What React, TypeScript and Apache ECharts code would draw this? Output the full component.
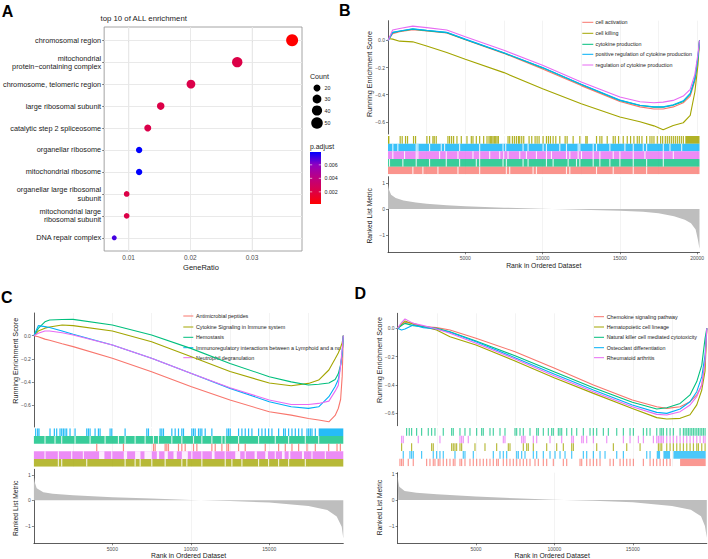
import React, { useEffect, useRef } from "react";
import * as echarts from "echarts";

const FONT = "'Liberation Sans', Arial, Helvetica, sans-serif";
const RED = "#F8766D", OLIVE = "#A3A500", GREEN = "#00BF7D", BLUE = "#00B0F6", PURPLE = "#E76BF3";

// ---------------- Panel A data ----------------
const goTerms = [
  "chromosomal region",
  "mitochondrial\nprotein\u2212containing complex",
  "chromosome, telomeric region",
  "large ribosomal subunit",
  "catalytic step 2 spliceosome",
  "organellar ribosome",
  "mitochondrial ribosome",
  "organellar large ribosomal\nsubunit",
  "mitochondrial large\nribosomal subunit",
  "DNA repair complex",
];
const geneRatio = [0.0365, 0.0276, 0.0201, 0.0152, 0.0131, 0.0117, 0.0117, 0.00968, 0.00968, 0.00767];
const geneCount = [54, 41, 30, 23, 20, 17, 17, 14, 14, 11];
const pAdjust = [0.0002, 0.0021, 0.0022, 0.0021, 0.0022, 0.0079, 0.0079, 0.0021, 0.0021, 0.007];
const ratioTicks = [0.01, 0.02, 0.03];
const ratioMinor = [0.015, 0.025, 0.035];
const ratioRange = [0.00603, 0.0381];
const countLegend = [20, 30, 40, 50];
const pTicks = [0.002, 0.004, 0.006];
const pRange = [0.0002, 0.0079];
const pColors = ["#FF0000", "#DC0048", "#BD0080", "#9200BF", "#0000FF"];

// ---------------- GSEA shared ----------------
const esTicks = [0, -0.2, -0.4, -0.6];
const metricTicks = [1, 0, -1];

// ---------------- Panel B data ----------------
const N_B = 20150;
const B_names = ["cell activation", "cell killing", "cytokine production", "positive regulation of cytokine production", "regulation of cytokine production"];
const B_esX = [0, 300, 750, 1600, 2500, 3800, 5000, 7500, 10000, 12500, 15000, 16300, 17200, 17800, 18450, 19100, 19550, 19850, 20050, 20150];
const B_es_activation = [0, 0.05, 0.065, 0.08, 0.07, 0.055, 0.005, -0.095, -0.21, -0.333, -0.45, -0.49, -0.505, -0.505, -0.49, -0.46, -0.41, -0.3, -0.14, 0];
const B_es_killing = [0.015, 0.01, -0.005, -0.01, -0.04, -0.089, -0.138, -0.237, -0.356, -0.467, -0.565, -0.6, -0.63, -0.659, -0.627, -0.607, -0.553, -0.38, -0.18, 0];
const B_es_cytokine = [0, 0.058, 0.068, 0.084, 0.073, 0.058, 0.008, -0.092, -0.202, -0.325, -0.442, -0.48, -0.492, -0.492, -0.478, -0.45, -0.395, -0.285, -0.125, 0];
const B_es_posreg = [0, 0.06, 0.07, 0.086, 0.075, 0.06, 0.01, -0.09, -0.2, -0.323, -0.44, -0.478, -0.49, -0.49, -0.475, -0.445, -0.39, -0.28, -0.12, 0];
const B_es_reg = [0, 0.077, 0.089, 0.106, 0.095, 0.077, 0.027, -0.072, -0.183, -0.306, -0.417, -0.452, -0.459, -0.455, -0.442, -0.41, -0.36, -0.25, -0.1, 0];
const B_hits_killing = [20, 54, 788, 918, 1134, 1263, 1652, 1782, 2516, 2689, 2905, 2991, 3121, 3877, 3985, 4115, 4244, 4460, 4741, 5108, 5389, 5497, 5713, 5929, 6188, 6404, 6534, 6620, 6707, 6793, 6879, 6966, 7052, 7139, 7765, 7873, 8046, 8175, 8305, 8435, 8521, 8651, 8780, 9126, 9299, 9515, 9644, 9774, 10033, 10249, 10379, 10508, 10681, 10854, 11113, 11459, 11588, 11977, 12409, 12798, 12884, 13489, 13705, 13835, 14180, 14569, 14699, 14915, 15217, 15476, 15692, 15908, 16124, 16254, 16427, 16729, 16945, 17075, 17204, 17421, 17637, 17766, 17939, 18068, 18198, 18327, 18457, 18587, 18716, 18846, 18975, 19105, [19230, 20150]];
const B_gaps_posreg = [313, 637, 1825, 1933, 2689, 3445, 3661, 4633, 5929, 7441, 7614, 8737, 9061, 10033, 10249, 11113, 11545, 12301, 12409, 13273, 13489, 14353, 15325, 15865, 16513, 16729, 17809, 18241, 18997];
const B_gaps_reg = [313, 1069, 1825, 1933, 3337, 3769, 4525, 5497, 5929, 6577, 7225, 7484, 7765, 8521, 8953, 9601, 10249, 10573, 11545, 11761, 12301, 12517, 13273, 13705, 14569, 15001, 15865, 16621, 17809, 18457];
const B_gaps_cytokine = [97, 961, 1825, 2689, 3769, 4633, 5713, 5929, 7441, 7657, 8737, 9061, 10249, 10681, 11653, 12193, 12409, 13273, 13705, 14353, 15001, 15865, 16729, 17809];
const B_gaps_activation = [1609, 2257, 3229, 4525, 5929, 7657, 7873, 9385, 9601, 11545, 11761, 13489, 14569, 15865, 16729];
const B_metricX = [0, 60, 200, 500, 1000, 1800, 2500, 3800, 5000, 7500, 10000, 12500, 15000, 16500, 17500, 18500, 19200, 19600, 19900, 20050, 20150];
const B_metricY = [0.95, 0.75, 0.55, 0.42, 0.33, 0.25, 0.2, 0.14, 0.1, 0.05, 0.005, -0.03, -0.065, -0.11, -0.17, -0.28, -0.42, -0.55, -0.8, -1.2, -1.55];
const B_xTicks = [5000, 10000, 15000, 20000];

// ---------------- Panel C data ----------------
const N_C = 19720;
const C_names = ["Antimicrobial peptides", "Cytokine Signaling in Immune system", "Hemostasis", "Immunoregulatory interactions between a Lymphoid and a non\u2212Lymphoid cell", "Neutrophil degranulation"];
const C_esX = [0, 280, 700, 1000, 1800, 2500, 5000, 7500, 10000, 12500, 15000, 16400, 17500, 18150, 18800, 19200, 19400, 19550, 19650, 19720];
const C_es_antimicrobial = [0, -0.01, -0.03, -0.04, -0.07, -0.095, -0.196, -0.312, -0.44, -0.557, -0.658, -0.687, -0.716, -0.73, -0.745, -0.69, -0.63, -0.55, -0.35, 0];
const C_es_cytokine = [0, 0.04, 0.065, 0.075, 0.092, 0.087, 0.04, -0.052, -0.18, -0.31, -0.41, -0.433, -0.413, -0.384, -0.297, -0.2, -0.15, -0.1, -0.06, 0];
const C_es_hemostasis = [0, 0.063, 0.12, 0.136, 0.14, 0.141, 0.092, 0.006, -0.11, -0.24, -0.355, -0.4, -0.427, -0.42, -0.41, -0.38, -0.33, -0.25, -0.15, 0];
const C_es_immuno = [0, 0.087, 0.078, 0.07, 0.04, 0.012, -0.081, -0.196, -0.326, -0.456, -0.571, -0.615, -0.629, -0.615, -0.528, -0.44, -0.38, -0.26, -0.15, 0];
const C_es_neutrophil = [0, 0.02, 0.04, 0.04, 0.025, 0.006, -0.081, -0.196, -0.326, -0.45, -0.557, -0.595, -0.595, -0.586, -0.566, -0.48, -0.43, -0.25, -0.12, 0];
const C_hits_immuno = [113, 240, 325, 1027, 1304, 1453, 1665, 1772, 1878, 1984, 2091, 2303, 2623, 3367, 3473, 3580, 3899, 4111, 4218, 4856, 4962, 5813, 7196, 7302, 8046, 8153, 8259, 8791, 9004, 9216, 9429, 9535, 10067, 10173, 10280, 10492, 10599, 10705, 10918, 11343, 12300, 12407, 12513, 13045, 13258, 13470, 13683, 13896, 14321, 14534, 14746, 14959, 15172, 15597, 15916, 16023, 16235, 16448, 16661, 16873, 17086, 17405, 17512, 17618, 17724, 17937, [18150, 19720]];
const C_gaps_hemostasis = [708, 1346, 1772, 2623, 3580, 4537, 5388, 5813, 6451, 7089, 7621, 7940, 8791, 9429, 10173, 10705, 11343, 11981, 12194, 13045, 14321, 15385, 16235, 17299, 18150];
const C_hits_antimicrobial = [4005, 5707, 7621, 7727, 8365, 8472, 8578, 9216, 9429, 9642, 10173, 10386, 11343, 11556, 11981, 12300, 12407, 13045, 13470, 14746, 15597, 16023, 16448, 16873, 17405, 17937, 18788, 19320, 19532];
const C_gaps_neutrophil = [[4154, 4494], [5728, 5941], [6451, 6792], [7047, 7515], [7834, 7983], [8323, 8536], [8897, 9110], [9429, 9812], [11343, 11514], [12832, 13151], [14066, 14215], [14746, 14917], [15810, 15980], [16235, 16342], [17086, 17214], 708, 1559, 2410, 3154, 4962, 10067, 10705, 12194, 13470, 15385, 17724, 18575];
const C_gaps_cytokine = [1559, 1772, 3367, 5813, 6451, 6771, 7515, 8365, 9429, 9748, 10705, 12194, 12619, 13258, 14321, 14959, 15597, 16235, 17299];
const C_metricX = [0, 60, 180, 600, 1200, 2500, 5000, 7500, 10000, 12500, 15000, 17500, 18700, 19300, 19620, 19720];
const C_metricY = [0.93, 0.7, 0.47, 0.32, 0.26, 0.2, 0.12, 0.07, 0.01, -0.03, -0.09, -0.22, -0.38, -0.64, -1.04, -1.5];
const C_xTicks = [5000, 10000, 15000];

// ---------------- Panel D data ----------------
const N_D = 19720;
const D_names = ["Chemokine signaling pathway", "Hematopoietic cell lineage", "Natural killer cell mediated cytotoxicity", "Osteoclast differentiation", "Rheumatoid arthritis"];
const D_esX = [0, 250, 470, 1000, 1640, 2490, 3340, 5000, 7490, 9980, 12490, 14970, 16530, 17170, 18020, 18650, 19080, 19400, 19610, 19720];
const D_es_chemokine = [0, 0.025, 0.042, 0.035, 0.012, 0.005, -0.012, -0.07, -0.165, -0.28, -0.4, -0.506, -0.553, -0.565, -0.553, -0.518, -0.47, -0.4, -0.235, 0];
const D_es_hemato = [0, 0.03, 0.052, 0.028, 0.012, -0.012, -0.059, -0.118, -0.23, -0.348, -0.459, -0.565, -0.63, -0.64, -0.635, -0.61, -0.54, -0.435, -0.3, 0];
const D_es_nk = [0, 0.02, 0.035, 0.019, 0.012, 0, -0.024, -0.09, -0.193, -0.306, -0.419, -0.522, -0.569, -0.56, -0.53, -0.47, -0.376, -0.26, -0.07, 0];
const D_es_osteo = [0, -0.012, -0.005, 0.024, 0.005, -0.005, -0.028, -0.094, -0.207, -0.322, -0.435, -0.541, -0.593, -0.6, -0.569, -0.518, -0.447, -0.341, -0.188, 0];
const D_es_ra = [0, 0.04, 0.066, 0.035, 0.019, -0.005, -0.035, -0.106, -0.216, -0.334, -0.447, -0.553, -0.607, -0.612, -0.588, -0.541, -0.482, -0.4, -0.235, 0];
const D_hits_nk = [574, 744, 893, 1212, 1531, 1957, 2170, 2382, 2914, 3446, 3552, 3977, 4297, 4616, 5041, 5360, 5466, 5892, 6104, 6530, 6849, 7487, 7593, 7806, 8019, 8444, 8870, 8976, 9295, 9614, 9826, 9933, 10252, 10358, 10465, 10784, 11103, 11422, 11847, 12272, 12485, 12698, 13123, 13442, 13974, 14400, 14825, 15038, 15676, 15889, 16101, 16527, 16740, 16846, 16952, 17165, 17378, 17591, 18016, 18229, 18335, 18442, 18548, 18654, 18760, 18867, 18973, 19080, 19186, 19292, 19398, 19505, 19611];
const D_hits_ra = [255, 362, 1319, 2701, 3978, 4084, 4190, 4509, 6743, 6849, 7913, 8019, 8125, 8657, 8870, 9721, 10465, 11103, 11210, 11741, 11847, 12060, 12486, 13337, 14400, 14825, 15357, 15676, 16314, 16527, 16633, 16740, 16846, 16952, 17165, 17378, 17591, 17803, 18016, 18229, 18442, 18654, 18867, 19080, 19292, 19505, 19611];
const D_hits_hemato = [255, 893, 2170, 2276, 3446, 3552, 3659, 3765, 3978, 4084, 4935, 5573, 6317, 7062, 7168, 8019, 8232, 8338, 8657, 9508, 10146, 10571, 11103, 11210, 12698, 13762, 14613, 15464, 16633, 16740, 16846, 17165, 17378, 17591, 17803, 18016, 18229, 18442, 18654, 18867, 19080, 19186, 19398, 19611];
const D_hits_osteo = [362, 787, 893, 1000, 1531, 2276, 2489, 2701, 2914, 3659, 4190, 4297, 4829, 6105, 6530, 6743, 6956, 7594, 7700, 7913, 8125, 8657, 8870, 9295, 9721, 10040, 10359, 10678, 11103, 11847, 12060, 12486, 12911, 13230, 13975, 14400, 15889, 16102, [16527, 16740], [16952, 17378], [17591, 19650]];
const D_hits_chemokine = [149, 255, 362, 681, 1000, 1851, 2063, 2276, 2382, 2595, 2701, 2914, 3127, 3340, 3552, 3659, 3978, 4084, 4297, 4616, 4829, 5041, 5254, 5467, 5679, 5892, 6105, 6317, 6424, 6743, 6956, 7168, 7381, 7594, 7806, 8019, 8232, 8444, 8763, 8976, 9295, 9508, 9933, 10571, 10784, 11635, 11741, 12060, 12273, 12486, 12698, 12911, 13549, 13762, 14187, 14400, 14613, 14825, 15038, 15676, 16102, 16314, 16527, 16740, 16952, 17165, 17378, [18016, 19650]];
const D_metricX = [0, 40, 110, 450, 1200, 2500, 5000, 7500, 10000, 12500, 15000, 17500, 18700, 19350, 19600, 19720];
const D_metricY = [0.95, 0.72, 0.5, 0.34, 0.27, 0.22, 0.13, 0.06, 0.01, -0.03, -0.09, -0.23, -0.38, -0.63, -1.0, -1.45];
const D_xTicks = [5000, 10000, 15000];

// ---------------- Layout ----------------
const panels = [
  {
    N: N_B, left: 388, width: 311.5,
    es: { top: 20.7, bottom: 134, min: -0.69, max: 0.146 },
    band: { top: 136, bottom: 174.3 },
    rank: { top: 176.7, bottom: 252.3, min: -1.68, max: 1.25 },
    xTicks: B_xTicks, esX: B_esX, metricX: B_metricX, metricY: B_metricY,
    curves: [
      { name: B_names[0], color: RED, v: B_es_activation },
      { name: B_names[1], color: OLIVE, v: B_es_killing },
      { name: B_names[2], color: GREEN, v: B_es_cytokine },
      { name: B_names[3], color: BLUE, v: B_es_posreg },
      { name: B_names[4], color: PURPLE, v: B_es_reg },
    ],
    rows: [
      { color: OLIVE, hits: B_hits_killing },
      { color: BLUE, gaps: B_gaps_posreg },
      { color: PURPLE, gaps: B_gaps_reg },
      { color: GREEN, gaps: B_gaps_cytokine },
      { color: RED, gaps: B_gaps_activation },
    ],
    legend: { x1: 582.3, x2: 593.3, tx: 595.5, ys: [22.3, 33.3, 44.3, 54.3, 65], clip: 0 },
    titles: { yx: 369, esy: 74, ranky: 215.8, xy: 265.3 },
  },
  {
    N: N_C, left: 33.9, width: 309.4,
    es: { top: 313, bottom: 427, min: -0.79, max: 0.196 },
    band: { top: 428.3, bottom: 466.7 },
    rank: { top: 469.3, bottom: 543.3, min: -1.69, max: 1.22 },
    xTicks: C_xTicks, esX: C_esX, metricX: C_metricX, metricY: C_metricY,
    curves: [
      { name: C_names[0], color: RED, v: C_es_antimicrobial },
      { name: C_names[1], color: OLIVE, v: C_es_cytokine },
      { name: C_names[2], color: GREEN, v: C_es_hemostasis },
      { name: C_names[3], color: BLUE, v: C_es_immuno },
      { name: C_names[4], color: PURPLE, v: C_es_neutrophil },
    ],
    rows: [
      { color: BLUE, hits: C_hits_immuno },
      { color: GREEN, gaps: C_gaps_hemostasis },
      { color: RED, hits: C_hits_antimicrobial },
      { color: PURPLE, gaps: C_gaps_neutrophil },
      { color: OLIVE, gaps: C_gaps_cytokine },
    ],
    legend: { x1: 183.3, x2: 193.3, tx: 196, ys: [316, 327, 337.3, 347.7, 357.7], clip: 147.5 },
    titles: { yx: 15, esy: 360.8, ranky: 508.3, xy: 555.3 },
  },
  {
    N: N_D, left: 397.6, width: 309.2,
    es: { top: 313.3, bottom: 425.7, min: -0.687, max: 0.106 },
    band: { top: 428, bottom: 466.3 },
    rank: { top: 472.7, bottom: 543.3, min: -1.66, max: 1.04 },
    xTicks: D_xTicks, esX: D_esX, metricX: D_metricX, metricY: D_metricY,
    curves: [
      { name: D_names[0], color: RED, v: D_es_chemokine },
      { name: D_names[1], color: OLIVE, v: D_es_hemato },
      { name: D_names[2], color: GREEN, v: D_es_nk },
      { name: D_names[3], color: BLUE, v: D_es_osteo },
      { name: D_names[4], color: PURPLE, v: D_es_ra },
    ],
    rows: [
      { color: GREEN, hits: D_hits_nk, opacity: 0.7 },
      { color: PURPLE, hits: D_hits_ra, opacity: 0.7 },
      { color: OLIVE, hits: D_hits_hemato, opacity: 0.75 },
      { color: BLUE, hits: D_hits_osteo, opacity: 0.7 },
      { color: RED, hits: D_hits_chemokine, opacity: 0.75 },
    ],
    legend: { x1: 594, x2: 604, tx: 606.7, ys: [316.7, 327, 337.3, 347.7, 357.7], clip: 0 },
    titles: { yx: 379, esy: 360, ranky: 507.5, xy: 555.3 },
  },
];

const minus = (s: string) => s.replace("-", "\u2212");
const fmtES = (v: number) => (Math.abs(v) < 1e-9 ? "0.0" : minus(v.toFixed(1)));
const fmtMetric = (v: number) => (Math.abs(v) < 1e-9 ? "0" : minus(String(Math.round(v))));
const dotSize = (c: number) => 1.74 * Math.sqrt(c) - 0.77;

function bandSeries(xi: number, yi: number, row: number, items: any[], color: string, opacity: number, minW: number) {
  return {
    type: "custom",
    xAxisIndex: xi,
    yAxisIndex: yi,
    silent: true,
    clip: true,
    z: 2,
    encode: { x: [0, 1], y: 2 },
    data: items.map((it: any) => (Array.isArray(it) ? [it[0], it[1], row] : [it, it, row])),
    renderItem: (_p: any, api: any) => {
      const a = api.coord([api.value(0), api.value(2)]);
      const b = api.coord([api.value(1), api.value(2) + 1]);
      let x0 = Math.min(a[0], b[0]);
      let x1 = Math.max(a[0], b[0]);
      if (x1 - x0 < minW) {
        const c = (x0 + x1) / 2;
        x0 = c - minW / 2;
        x1 = c + minW / 2;
      }
      const y0 = Math.min(a[1], b[1]);
      const y1 = Math.max(a[1], b[1]);
      return { type: "rect", shape: { x: x0, y: y0, width: x1 - x0, height: y1 - y0 }, style: { fill: color, opacity } };
    },
  };
}

function buildOption() {
  const grid: any[] = [];
  const xAxis: any[] = [];
  const yAxis: any[] = [];
  const series: any[] = [];
  const graphic: any[] = [];
  const txt = (text: string, x: number, y: number, o: any = {}) => ({
    type: "text", x, y, silent: true, z: 1,
    style: { text, fontFamily: FONT, fontSize: 7, fill: "#1A1A1A", align: "left", verticalAlign: "middle", ...o },
  });
  const axisLineStyle = { color: "#333333", width: 0.8 };
  const tickStyle = { color: "#333333", width: 0.6 };

  // Panel letters
  const letters: any[] = [["A", 1.7, 11.3], ["B", 339, 10.8], ["C", 1, 297.8], ["D", 354.5, 293.3]];
  letters.forEach(([t, x, y]) => graphic.push(txt(t, x, y, { fontSize: 16, fontWeight: "bold", fill: "#000" })));

  // ---------- Panel A ----------
  const gA = grid.push({ left: 100, top: 27, width: 202, height: 224, show: true, borderColor: "#9A9A9A", borderWidth: 0.9, backgroundColor: "#FFFFFF" }) - 1;
  const xA = xAxis.push({
    gridIndex: gA, type: "value", min: ratioRange[0], max: ratioRange[1],
    axisLine: { show: false }, splitLine: { show: false },
    axisTick: { show: true, length: 2, customValues: ratioTicks, lineStyle: tickStyle },
    axisLabel: { customValues: ratioTicks, formatter: (v: number) => v.toFixed(2), fontSize: 6.5, color: "#4D4D4D", fontFamily: FONT, margin: 3 },
  }) - 1;
  const termIdx = goTerms.map((_, i) => i);
  const yA = yAxis.push({
    gridIndex: gA, type: "value", min: -0.6, max: 9.6, inverse: true,
    axisLine: { show: false }, splitLine: { show: false },
    axisTick: { show: true, length: 2, customValues: termIdx, lineStyle: tickStyle },
    axisLabel: { customValues: termIdx, formatter: (v: number) => goTerms[Math.round(v)], fontSize: 7.3, lineHeight: 8.2, color: "#1A1A1A", fontFamily: FONT, margin: 3 },
  }) - 1;
  const gridLine = (w: number) => ({ color: "#E6E6E6", width: w, type: "solid" });
  series.push({
    type: "scatter", xAxisIndex: xA, yAxisIndex: yA, z: 3, silent: true,
    data: goTerms.map((_, i) => [geneRatio[i], i, pAdjust[i], geneCount[i]]),
    symbolSize: (v: number[]) => dotSize(v[3]),
    itemStyle: { opacity: 1 },
    markLine: {
      silent: true, symbol: "none", z: 1, animation: false, label: { show: false },
      data: [
        ...ratioTicks.map((v) => ({ xAxis: v, lineStyle: gridLine(0.9) })),
        ...ratioMinor.map((v) => ({ xAxis: v, lineStyle: gridLine(0.45) })),
        ...termIdx.map((v) => ({ yAxis: v, lineStyle: gridLine(0.9) })),
      ],
    },
  });
  graphic.push(txt("top 10 of ALL enrichment", 100.5, 18.5, { fontSize: 7.8 }));
  graphic.push(txt("GeneRatio", 201, 267.3, { fontSize: 7.5, align: "center" }));
  graphic.push(txt("Count", 310, 77, { fontSize: 7.1 }));
  const legYs = [88, 99, 110.5, 123];
  countLegend.forEach((c, i) => {
    graphic.push({ type: "circle", silent: true, shape: { cx: 317, cy: legYs[i], r: dotSize(c) / 2 }, style: { fill: "#000" } });
    graphic.push(txt(String(c), 324.5, legYs[i], { fontSize: 5.3 }));
  });
  graphic.push(txt("p.adjust", 310, 146, { fontSize: 6.9 }));
  const cb = { x: 310, y: 152, w: 11, h: 52 };
  graphic.push({
    type: "rect", silent: true, shape: { x: cb.x, y: cb.y, width: cb.w, height: cb.h },
    style: { fill: new echarts.graphic.LinearGradient(0, 1, 0, 0, pColors.map((c, i) => ({ offset: i / (pColors.length - 1), color: c }))) },
  });
  pTicks.forEach((v) => {
    const y = cb.y + cb.h - ((v - pRange[0]) / (pRange[1] - pRange[0])) * cb.h;
    graphic.push({ type: "line", silent: true, shape: { x1: cb.x, y1: y, x2: cb.x + 2.2, y2: y }, style: { stroke: "#fff", lineWidth: 0.6 } });
    graphic.push({ type: "line", silent: true, shape: { x1: cb.x + cb.w - 2.2, y1: y, x2: cb.x + cb.w, y2: y }, style: { stroke: "#fff", lineWidth: 0.6 } });
    graphic.push(txt(v.toFixed(3), 324.5, y, { fontSize: 5.3 }));
  });

  // ---------- GSEA panels ----------
  panels.forEach((p) => {
    const xBase = {
      type: "value", min: 0, max: p.N, interval: 2500,
      splitLine: { show: true, showMaxLine: false, showMinLine: false, lineStyle: { color: "#EBEBEB", width: 0.6 } },
      axisLine: { show: false }, axisTick: { show: false }, axisLabel: { show: false },
    };
    // ES panel
    const gE = grid.push({ left: p.left, width: p.width, top: p.es.top, height: p.es.bottom - p.es.top }) - 1;
    const xE = xAxis.push({ ...xBase, gridIndex: gE }) - 1;
    const yE = yAxis.push({
      gridIndex: gE, type: "value", min: p.es.min, max: p.es.max, splitLine: { show: false },
      axisLine: { show: true, onZero: false, lineStyle: axisLineStyle },
      axisTick: { show: true, length: 2, customValues: esTicks, lineStyle: tickStyle },
      axisLabel: { customValues: esTicks, formatter: fmtES, fontSize: 5, color: "#4D4D4D", fontFamily: FONT, margin: 3 },
    }) - 1;
    p.curves.forEach((c) => {
      series.push({
        type: "line", xAxisIndex: xE, yAxisIndex: yE, silent: true, z: 3,
        data: p.esX.map((x, i) => [x, c.v[i]]),
        symbol: "none", showSymbol: false,
        lineStyle: { color: c.color, width: 1.1 }, itemStyle: { color: c.color },
      });
    });
    // legend
    p.curves.forEach((c, i) => {
      const y = p.legend.ys[i];
      graphic.push({ type: "line", silent: true, z: 1, shape: { x1: p.legend.x1, y1: y, x2: p.legend.x2, y2: y }, style: { stroke: c.color, lineWidth: 1 } });
      const extra: any = p.legend.clip ? { width: p.legend.clip, overflow: "truncate", ellipsis: "" } : {};
      graphic.push(txt(c.name, p.legend.tx, y, { fontSize: 5.35, ...extra }));
    });
    // band panel
    const gB = grid.push({ left: p.left, width: p.width, top: p.band.top, height: p.band.bottom - p.band.top }) - 1;
    const xB = xAxis.push({ ...xBase, gridIndex: gB }) - 1;
    const yB = yAxis.push({ gridIndex: gB, type: "value", min: 0, max: p.rows.length, inverse: true, show: false }) - 1;
    p.rows.forEach((r: any, i: number) => {
      if (r.gaps) {
        series.push(bandSeries(xB, yB, i, [[0, p.N]], r.color, 0.78, 1.2));
        series.push(bandSeries(xB, yB, i, r.gaps, "#FFFFFF", 0.85, 1.1));
      } else {
        series.push(bandSeries(xB, yB, i, r.hits, r.color, r.opacity ?? 0.85, 1.2));
      }
    });
    // rank metric panel
    const gR = grid.push({ left: p.left, width: p.width, top: p.rank.top, height: p.rank.bottom - p.rank.top }) - 1;
    const xR = xAxis.push({
      ...xBase, gridIndex: gR,
      axisLine: { show: true, onZero: false, lineStyle: axisLineStyle },
      axisTick: { show: true, length: 2, customValues: p.xTicks, lineStyle: tickStyle },
      axisLabel: { show: true, customValues: p.xTicks, formatter: (v: number) => String(v), fontSize: 5, color: "#4D4D4D", fontFamily: FONT, margin: 3 },
    }) - 1;
    const yR = yAxis.push({
      gridIndex: gR, type: "value", min: p.rank.min, max: p.rank.max, splitLine: { show: false },
      axisLine: { show: true, onZero: false, lineStyle: axisLineStyle },
      axisTick: { show: true, length: 2, customValues: metricTicks, lineStyle: tickStyle },
      axisLabel: { customValues: metricTicks, formatter: fmtMetric, fontSize: 5, color: "#4D4D4D", fontFamily: FONT, margin: 3 },
    }) - 1;
    series.push({
      type: "line", xAxisIndex: xR, yAxisIndex: yR, silent: true, z: 2,
      data: p.metricX.map((x, i) => [x, p.metricY[i]]),
      symbol: "none", showSymbol: false,
      lineStyle: { width: 0, color: "#BEBEBE" }, itemStyle: { color: "#BEBEBE" },
      areaStyle: { color: "#BEBEBE", opacity: 1 },
    });
    // titles
    graphic.push(txt("Running Enrichment Score", p.titles.yx, p.titles.esy, { fontSize: 7.2, align: "center", fill: "#1A1A1A" }));
    graphic[graphic.length - 1].rotation = Math.PI / 2;
    graphic.push(txt("Ranked List Metric", p.titles.yx, p.titles.ranky, { fontSize: 6.7, align: "center" }));
    graphic[graphic.length - 1].rotation = Math.PI / 2;
    graphic.push(txt("Rank in Ordered Dataset", p.left + p.width / 2, p.titles.xy, { fontSize: 6.8, align: "center" }));
  });

  return {
    animation: false,
    backgroundColor: "#FFFFFF",
    textStyle: { fontFamily: FONT },
    grid, xAxis, yAxis, series, graphic,
    visualMap: [{ type: "continuous", show: false, seriesIndex: 0, dimension: 2, min: pRange[0], max: pRange[1], inRange: { color: pColors } }],
  };
}

export default function App() {
  const ref = useRef<HTMLDivElement>(null);
  useEffect(() => {
    if (!ref.current) return;
    const chart = echarts.init(ref.current, null, { renderer: "svg" });
    chart.setOption(buildOption() as any);
    return () => chart.dispose();
  }, []);
  return <div ref={ref} style={{ position: "absolute", left: 0, top: 0, width: 708, height: 559, background: "#fff" }} />;
}
